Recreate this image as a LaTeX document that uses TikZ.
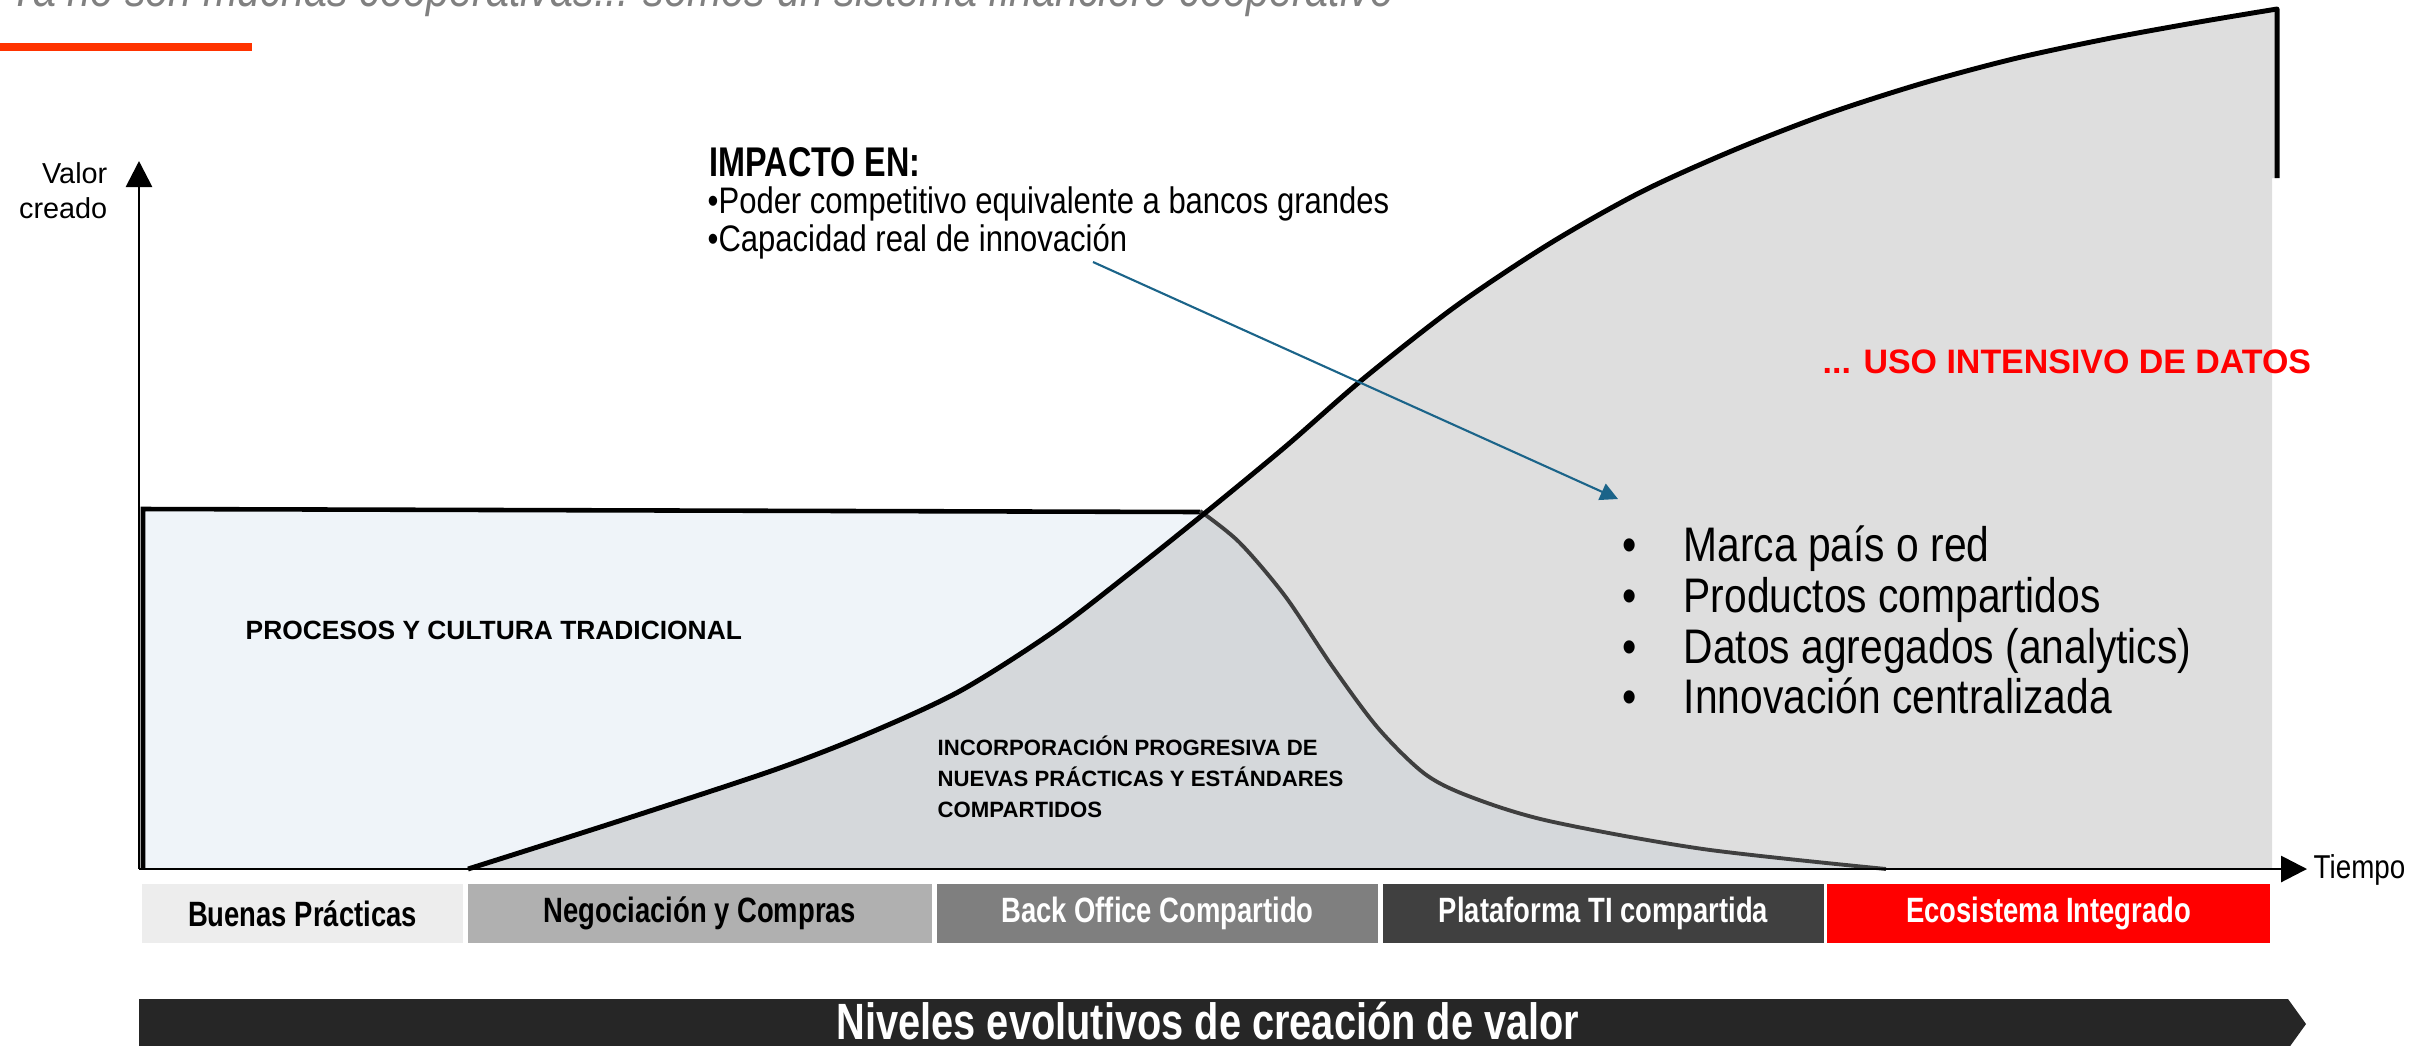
\documentclass[tikz,border=0pt]{standalone}
\usepackage{fontspec}
\setmainfont{Liberation Sans}
\newfontfamily\narrowfont[FakeStretch=0.84]{Liberation Sans}
\newfontfamily\condfont[FakeStretch=0.78]{Liberation Sans}
\usetikzlibrary{arrows.meta}

\definecolor{boxblue}{HTML}{EFF4F9}
\definecolor{lightgrey}{HTML}{DEDEDE}
\definecolor{midgrey}{HTML}{D5D8DB}
\definecolor{darkline}{HTML}{3F3F3F}
\definecolor{arrowblue}{HTML}{1B6489}
\definecolor{barred}{HTML}{FF3300}
\definecolor{titlegrey}{HTML}{808080}
\definecolor{bandgrey}{HTML}{262626}
\definecolor{lvlone}{HTML}{EDEDED}
\definecolor{lvltwo}{HTML}{B0B0B0}
\definecolor{lvlthree}{HTML}{7F7F7F}
\definecolor{lvlfour}{HTML}{404040}
\definecolor{lvlfive}{HTML}{FF0000}

\begin{document}
\begin{tikzpicture}[x=0.01cm,y=-0.01cm,
  axis/.style={line width=0.8pt,-{Triangle[length=7.4pt,width=7.4pt]}},
  level/.style={minimum height=0.59cm,inner sep=0pt,font=\condfont\bfseries\fontsize{10}{12}\selectfont},
  item/.style={anchor=base west,inner sep=0pt,font=\narrowfont\fontsize{13.8}{16}\selectfont}]
\useasboundingbox (0,0) rectangle (2428,1045);
% titulo (cortado arriba)
\node[anchor=base west,inner sep=0pt,text=titlegrey,font=\narrowfont\itshape\fontsize{14}{16}\selectfont] (titulo) at (8,6) {Ya no son muchas cooperativas... somos un sistema financiero cooperativo};
\fill[barred] (0,43) rectangle (252,51);
% areas
\fill[boxblue] (143,511) rectangle (1200,869);
\begin{scope}
\clip plot[smooth,tension=0.5] coordinates {(468,869) (619,821) (774,770) (867,734) (960,691) (1053,632) (1130,573) (1205,513) (1285,447) (1363,379) (1456,306) (1549,244) (1641,192) (1734,150) (1827,114) (1920,84) (2013,59) (2106,39) (2199,22) (2277,9)} -- (2277,178) -- (2272,178) -- (2272,869) -- cycle;
\fill[lightgrey] (143,0) rectangle (2300,869);
\fill[midgrey] (143,511) -- plot[smooth,tension=0.5] coordinates {(1200,511) (1239,542) (1285,596) (1332,666) (1378,728) (1425,774) (1471,797) (1549,821) (1703,849) (1886,869)} -- (143,869) -- cycle;
\end{scope}
% lineas
\draw[line width=1.3pt] (143,869) -- (143,509) -- (1200,512);
\draw[darkline,line width=1.1pt] plot[smooth,tension=0.5] coordinates {(1200,511) (1239,542) (1285,596) (1332,666) (1378,728) (1425,774) (1471,797) (1549,821) (1703,849) (1886,869)};
\draw[line width=1.4pt,line join=round] plot[smooth,tension=0.5] coordinates {(468,869) (619,821) (774,770) (867,734) (960,691) (1053,632) (1130,573) (1205,513) (1285,447) (1363,379) (1456,306) (1549,244) (1641,192) (1734,150) (1827,114) (1920,84) (2013,59) (2106,39) (2199,22) (2277,9)} -- (2277,178);
% ejes
\coordinate (origen) at (139,869);
\coordinate (ytop) at (139,161);
\coordinate (xend) at (2307,869);
\draw[axis] (origen) -- (ytop);
\draw[axis] (origen) -- (xend);
\node[anchor=east,align=right,inner sep=0pt,font=\fontsize{8.2}{10}\selectfont] (valor) at (108,191) {Valor\\creado};
\node[anchor=west,inner sep=0pt,font=\narrowfont\fontsize{9.4}{11}\selectfont] (tiempo) at (2313,870) {Tiempo};
% textos
\node[anchor=west,inner sep=0pt,font=\bfseries\fontsize{7.5}{9}\selectfont] (procesos) at (245,630) {PROCESOS Y CULTURA TRADICIONAL};
\node[anchor=west,align=left,inner sep=0pt,font=\bfseries\fontsize{6.3}{8.8}\selectfont] (incorporacion) at (937,777) {INCORPORACIÓN PROGRESIVA DE\\NUEVAS PRÁCTICAS Y ESTÁNDARES\\COMPARTIDOS};
\node[anchor=west,inner sep=0pt,text=lvlfive,font=\bfseries\fontsize{9.65}{11}\selectfont] (datos) at (1822,362) {... USO INTENSIVO DE DATOS};
\node[anchor=base west,inner sep=0pt,font=\condfont\bfseries\fontsize{11.8}{13}\selectfont] (impacto) at (709,176) {IMPACTO EN:};
\node[anchor=base west,inner sep=0pt,font=\narrowfont\fontsize{10.5}{12}\selectfont] (poder) at (707,213) {•Poder competitivo equivalente a bancos grandes};
\node[anchor=base west,inner sep=0pt,font=\narrowfont\fontsize{10.5}{12}\selectfont] (capacidad) at (707,251) {•Capacidad real de innovación};
\coordinate (desde) at (1093,262);
\coordinate (hacia) at (1618,499);
\draw[arrowblue,line width=0.6pt,-{Triangle[length=5pt,width=5pt]}] (desde) -- (hacia);
% lista
\node[item] (b1) at (1622,561) {•};\node[item] (marca) at (1683,561) {Marca país o red};
\node[item] (b2) at (1622,612) {•};\node[item] (productos) at (1683,612) {Productos compartidos};
\node[item] (b3) at (1622,663) {•};\node[item] (agregados) at (1683,663) {Datos agregados (analytics)};
\node[item] (b4) at (1622,713) {•};\node[item] (innovacion) at (1683,713) {Innovación centralizada};
% niveles
\node[level,fill=lvlone,minimum width=3.21cm] (buenas) at (302.5,913.5) {Buenas Prácticas};
\node[level,fill=lvltwo,minimum width=4.64cm] (negociacion) at (700,913.5) {Negociación y Compras};
\node[level,fill=lvlthree,minimum width=4.41cm,text=white] (backoffice) at (1157.5,913.5) {Back Office Compartido};
\node[level,fill=lvlfour,minimum width=4.41cm,text=white] (plataforma) at (1603.5,913.5) {Plataforma TI compartida};
\node[level,fill=lvlfive,minimum width=4.43cm,text=white] (ecosistema) at (2048.5,913.5) {Ecosistema Integrado};
% flecha inferior
\fill[bandgrey] (139,999) -- (2288,999) -- (2306,1024) -- (2288,1049) -- (139,1049) -- cycle;
\node[text=white,inner sep=0pt,font=\condfont\bfseries\fontsize{14.5}{16}\selectfont] (niveles) at (1208,1021) {Niveles evolutivos de creación de valor};
\end{tikzpicture}
\end{document}
